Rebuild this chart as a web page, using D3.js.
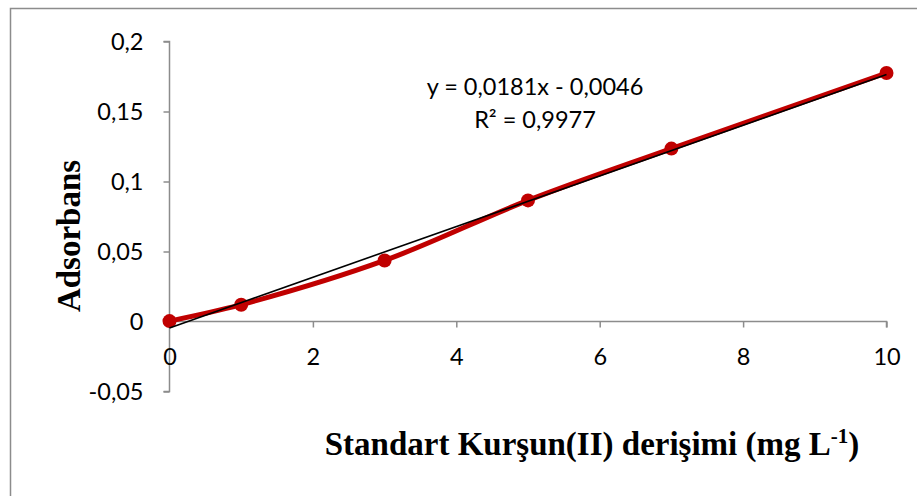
<!DOCTYPE html>
<html>
<head>
<meta charset="utf-8">
<script src="https://cdn.jsdelivr.net/npm/d3@7"></script>
<style>
  html, body { margin: 0; padding: 0; background: #fff; }
  svg { display: block; }
</style>
</head>
<body>
<svg id="chart" width="917" height="496"></svg>
<script>
// Calibration data: lead(II) standard concentration vs absorbance
const concentrations = [0, 1, 3, 5, 7, 10];
const absorbances = [0.0003, 0.012, 0.0436, 0.0865, 0.1235, 0.1775];
const xTicks = [0, 2, 4, 6, 8, 10];
const yTicks = [-0.05, 0, 0.05, 0.1, 0.15, 0.2];
const trendSlope = 0.0181;
const trendIntercept = -0.0046;
const equationLines = ["y = 0,0181x - 0,0046", "R\u00b2 = 0,9977"];

const svg = d3.select("#chart");
const tickFont = "Lato, 'Open Sans', sans-serif";
const titleFont = "'Liberation Serif', 'Times New Roman', serif";

// Outer chart frame (only top and left edges fall inside the canvas)
svg.append("path")
  .attr("d", "M10.5,496 V8.5 H917")
  .attr("fill", "none")
  .attr("stroke", "#8c8c8c")
  .attr("stroke-width", 1.5);

const x = d3.scaleLinear().domain([0, 10]).range([169.5, 886.5]);
const y = d3.scaleLinear().domain([-0.05, 0.2]).range([391.5, 41.5]);

// Comma decimal separator, plain hyphen for negatives
const fmt = d => String(+d.toFixed(2)).replace(".", ",");

// Y axis
const yAxis = svg.append("g")
  .attr("transform", `translate(${x(0)},0)`)
  .call(d3.axisLeft(y).tickValues(yTicks).tickSize(6).tickPadding(20).tickFormat(fmt));

// X axis along y = 0
const xAxis = svg.append("g")
  .attr("transform", `translate(0,${y(0)})`)
  .call(d3.axisBottom(x).tickValues(xTicks).tickSize(6).tickPadding(21).tickFormat(fmt));

[yAxis, xAxis].forEach(g => {
  g.select(".domain").attr("stroke", "#8c8c8c").attr("stroke-width", 1.5);
  g.selectAll(".tick line").attr("stroke", "#8c8c8c").attr("stroke-width", 1.5);
  g.selectAll(".tick text")
    .attr("fill", "#000")
    .style("font-family", tickFont)
    .style("font-size", "23.5px");
});
xAxis.select(".domain").attr("d", `M${x(0)},0 H${x(10)} V6`);
yAxis.select(".domain").attr("d", `M-6,${y(-0.05)} H0 V${y(0.2)} H-6`);

// Measured series: smoothed red line with markers
const points = concentrations.map((c, i) => [c, absorbances[i]]);
const line = d3.line()
  .x(d => x(d[0]))
  .y(d => y(d[1]))
  .curve(d3.curveCatmullRom.alpha(0.5));

svg.append("path")
  .datum(points)
  .attr("d", line)
  .attr("fill", "none")
  .attr("stroke", "#c00000")
  .attr("stroke-width", 5)
  .attr("stroke-linejoin", "round");

svg.selectAll("circle.pt")
  .data(points)
  .enter().append("circle")
  .attr("class", "pt")
  .attr("cx", d => x(d[0]))
  .attr("cy", d => y(d[1]))
  .attr("r", 7)
  .attr("fill", "#c00000");

// Linear trendline
const trend = [0, 10].map(c => [c, trendSlope * c + trendIntercept]);
svg.append("path")
  .datum(trend)
  .attr("d", d3.line().x(d => x(d[0])).y(d => y(d[1])))
  .attr("fill", "none")
  .attr("stroke", "#000")
  .attr("stroke-width", 1.6);

// Trendline equation
svg.append("g").selectAll("text")
  .data(equationLines)
  .enter().append("text")
  .attr("x", 535)
  .attr("y", (d, i) => 95 + i * 33)
  .attr("text-anchor", "middle")
  .style("font-family", tickFont)
  .style("font-size", "23.5px")
  .attr("fill", "#000")
  .text(d => d);

// Axis titles
svg.append("text")
  .attr("transform", "translate(80,236) rotate(-90)")
  .attr("text-anchor", "middle")
  .style("font-family", titleFont)
  .style("font-weight", "bold")
  .style("font-size", "33px")
  .text("Adsorbans");

const xt = svg.append("text")
  .attr("x", 592)
  .attr("y", 455)
  .attr("text-anchor", "middle")
  .style("font-family", titleFont)
  .style("font-weight", "bold")
  .style("font-size", "33px");
xt.append("tspan").text("Standart Kurşun(II) derişimi (mg L");
xt.append("tspan").attr("dy", -12).style("font-size", "21px").text("-1");
xt.append("tspan").attr("dy", 12).text(")");
</script>
</body>
</html>
